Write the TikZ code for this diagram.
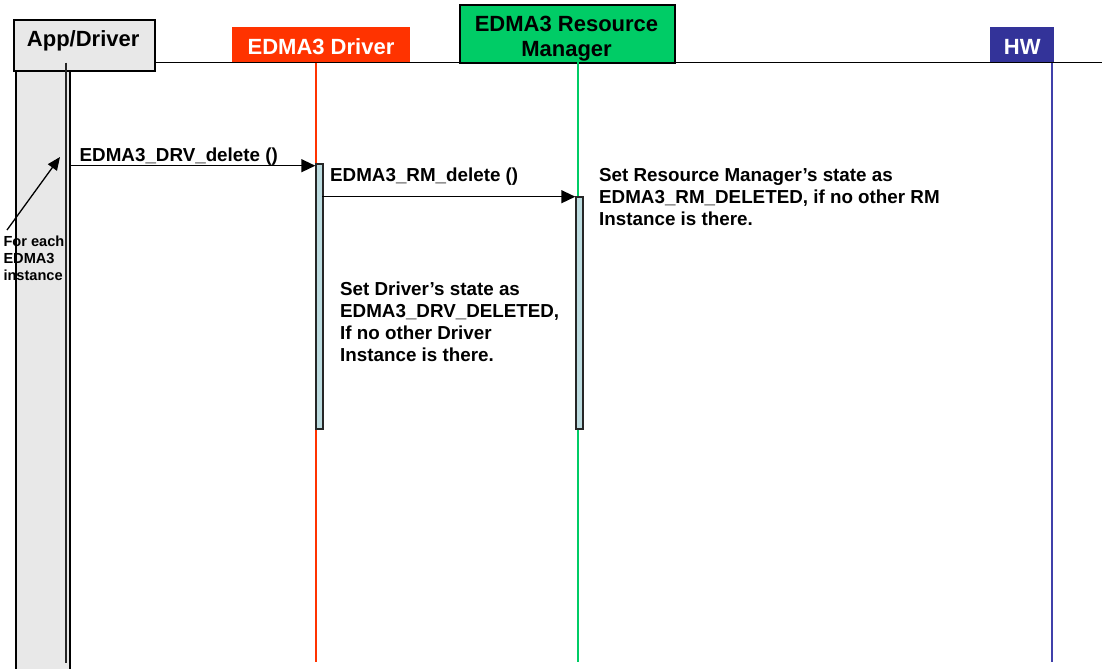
\documentclass[tikz,border=0pt]{standalone}
\usepackage{fontspec}
\setmainfont{Liberation Sans}
\usetikzlibrary{arrows.meta}
\definecolor{drvred}{HTML}{FF3300}
\definecolor{rmgreen}{HTML}{00CC66}
\definecolor{hwblue}{HTML}{333399}
\definecolor{hwline}{HTML}{4040AA}
\definecolor{colgray}{HTML}{E8E8E8}
\definecolor{actblue}{HTML}{BCDCE0}
\begin{document}
\begin{tikzpicture}[x=1pt,y=-1pt,
  titletext/.style={font=\fontsize{22}{24}\selectfont\bfseries, inner sep=0pt, anchor=base},
  bodytext/.style={font=\fontsize{18.8}{22}\selectfont\bfseries, inner sep=0pt, anchor=base west, align=left},
  smalltext/.style={font=\fontsize{14.6}{16.7}\selectfont\bfseries, inner sep=0pt, anchor=base west, align=left},
  headbox/.style={inner sep=0pt, anchor=north west},
  msg/.style={line width=1.4pt, -{Triangle[length=14pt,width=13pt]}},
  actbar/.style={draw=black!85, line width=1.5pt, fill=actblue, inner sep=0pt, anchor=north west, minimum width=6.7pt},
  lifeline/.style={line width=1.3pt}
]
\useasboundingbox (0,0) rectangle (1102,669);
% App/Driver column
\fill[colgray] (16,69.7) rectangle (69.5,669);
\draw[line width=2pt] (16,69.7) -- (16,669);
\draw[line width=2pt] (69.5,69.7) -- (69.5,669);
% header boxes
\node[headbox, draw, line width=2pt, fill=colgray, minimum width=141pt, minimum height=50.4pt] (appbox) at (12.7,19.3) {};
\node[headbox, fill=drvred, minimum width=178pt, minimum height=35pt] (drvbox) at (232,27) {};
\node[headbox, draw, line width=1.8pt, fill=rmgreen, minimum width=215pt, minimum height=58pt] (rmbox) at (459,4) {};
\node[headbox, fill=hwblue, minimum width=64pt, minimum height=36pt] (hwbox) at (990,27) {};
% baseline rule
\coordinate (ruleend) at (1102,62.7);
\draw[line width=1.5pt] (appbox.east |- ruleend) -- (ruleend);
% header texts
\node[titletext] (apptxt) at (83.2,46.7) {App/Driver};
\node[titletext, text=white] (drvtxt) at (321,55) {EDMA3 Driver};
\node[titletext] (rmtxt1) at (566.5,31.7) {EDMA3 Resource};
\node[titletext] (rmtxt2) at (566.5,56.7) {Manager};
\node[titletext, text=white] (hwtxt) at (1022.3,55) {HW};
% lifelines
\draw[lifeline, black!85, line width=1.6pt] (65.7,62.7) -- (65.7,662.7);
\draw[lifeline, drvred, line width=1.2pt] (316,63) -- (316,662);
\draw[lifeline, rmgreen, line width=1.6pt] (578,62) -- (578,662);
\draw[lifeline, hwline, line width=1.8pt] (1052.3,63) -- (1052.3,662);
% activation bars
\node[actbar, minimum height=265pt] (drvact) at (315.3,163) {};
\node[actbar, minimum height=232pt] (rmact) at (575.3,196) {};
% messages
\coordinate (m1s) at (69.5,165.7);
\draw[msg] (m1s) -- (m1s -| drvact.west);
\coordinate (m2s) at (322,196.7);
\draw[msg] (m2s) -- (m2s -| rmact.west);
\node[bodytext] (m1lbl) at (79.5,161) {EDMA3\_DRV\_delete ()};
\node[bodytext] (m2lbl) at (330,181.7) {EDMA3\_RM\_delete ()};
% notes (anchor = baseline of last line)
\node[bodytext] (drvnote) at (340,361.7) {Set Driver’s state as\\EDMA3\_DRV\_DELETED,\\If no other Driver\\Instance is there.};
\node[bodytext] (rmnote) at (599,225) {Set Resource Manager’s state as\\EDMA3\_RM\_DELETED, if no other RM\\Instance is there.};
% annotation
\node[smalltext] (anntxt) at (3.3,280) {For each\\EDMA3\\instance};
\coordinate (anns) at (7,230);
\coordinate (annt) at (60,157);
\draw[line width=1.3pt, -{Triangle[length=13pt,width=11pt]}] (anns) -- (annt);
\end{tikzpicture}
\end{document}
